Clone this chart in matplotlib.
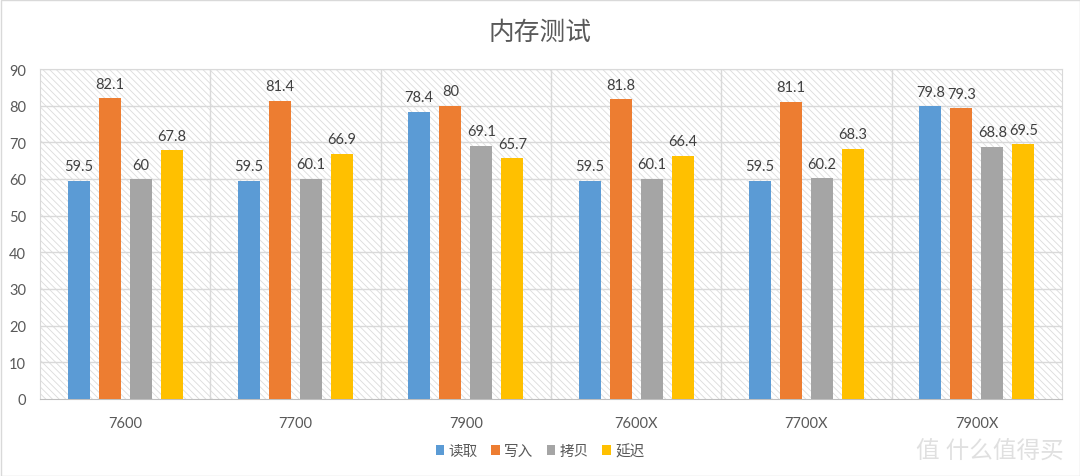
import matplotlib
matplotlib.use("Agg")
import matplotlib.pyplot as plt
import numpy as np
from matplotlib.patches import Rectangle, Patch

plt.rcParams['font.family'] = ['Lato', 'Noto Sans CJK SC', 'DejaVu Sans']
plt.rcParams['hatch.color'] = '#dcdcdc'
plt.rcParams['hatch.linewidth'] = 0.6

categories = ['7600', '7700', '7900', '7600X', '7700X', '7900X']
series_names = ['读取', '写入', '拷贝', '延迟']
read_vals = [59.5, 59.5, 78.4, 59.5, 59.5, 79.8]
write_vals = [82.1, 81.4, 80, 81.8, 81.1, 79.3]
copy_vals = [60, 60.1, 69.1, 60.1, 60.2, 68.8]
latency_vals = [67.8, 66.9, 65.7, 66.4, 68.3, 69.5]
colors = ['#5b9bd5', '#ed7d31', '#a5a5a5', '#ffc000']
title = '内存测试'

fig = plt.figure(figsize=(10.8, 4.77), dpi=100)
ax = fig.add_axes([40/1080, 1-400/477, 1022/1080, 330/477])

text_c = '#595959'
grid_c = '#d9d9d9'

ax.set_xlim(0, len(categories))
ax.set_ylim(0, 90)

# hatched background
bg = Rectangle((0, 0), 1, 1, transform=ax.transAxes, facecolor='white',
               edgecolor='#dcdcdc', linewidth=0, hatch='\\\\\\\\\\', zorder=0)
try:
    bg.set_hatchcolor('#dcdcdc')
except Exception:
    pass
ax.add_patch(bg)

for y in range(10, 91, 10):
    ax.axhline(y, color=grid_c, lw=1, zorder=1)
for xb in range(1, len(categories)):
    ax.axvline(xb, color=grid_c, lw=1, zorder=1)

x = np.arange(len(categories)) + 0.5
bw = 22/170
step = 31/170
all_vals = [read_vals, write_vals, copy_vals, latency_vals]
for i, (vals, c) in enumerate(zip(all_vals, colors)):
    pos = x + (i - 1.5) * step
    ax.bar(pos, vals, width=bw, color=c, zorder=3)
    for p, v in zip(pos, vals):
        ax.text(p, v + 2.0, f'{v:g}', ha='center', va='bottom', fontsize=10.5,
                color='#404040', zorder=4)

for s in ['top', 'right', 'left']:
    ax.spines[s].set_color(grid_c)
ax.spines['bottom'].set_color('#bfbfbf')
ax.set_xticks(x)
ax.set_xticklabels(categories)
ax.set_yticks(range(0, 91, 10))
ax.tick_params(axis='both', length=0, labelsize=10.5, colors=text_c)
ax.tick_params(axis='x', pad=12)
ax.tick_params(axis='y', pad=10)

fig.text(0.5, 1-32/477, title, ha='center', va='center', fontsize=18.5, color=text_c)

handles = [Patch(facecolor=c, edgecolor='none') for c in colors]
fig.legend(handles, series_names, loc='center', bbox_to_anchor=(0.5, 1-452/477),
           ncol=4, frameon=False, fontsize=10.5, handlelength=0.6, handleheight=0.6,
           handletextpad=0.3, columnspacing=0.9, labelcolor=text_c)

fig.text(1064/1080, 1-452/477, '值 什么值得买', ha='right', va='center', fontsize=17,
         color='#e0e0e0')

fig.patches.append(Rectangle((0.5/1080, 0.5/477), 1-1/1080, 1-1/477, transform=fig.transFigure,
                             fill=False, edgecolor=grid_c, lw=1))

fig.savefig('out.png', dpi=100)
